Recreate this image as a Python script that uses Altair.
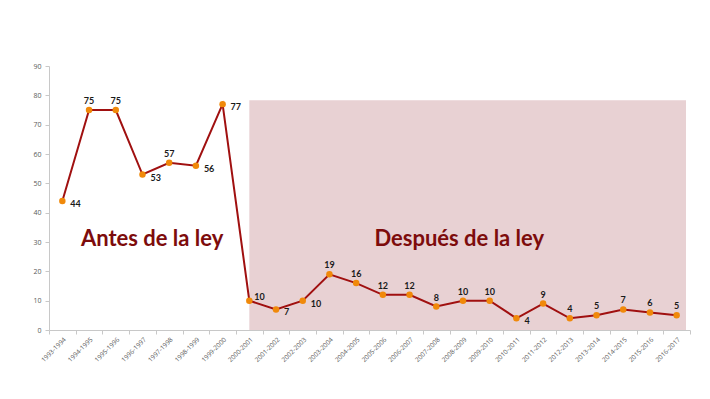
import altair as alt
import pandas as pd

seasons = ["1993-1994", "1994-1995", "1995-1996", "1996-1997", "1997-1998", "1998-1999",
           "1999-2000", "2000-2001", "2001-2002", "2002-2003", "2003-2004", "2004-2005",
           "2005-2006", "2006-2007", "2007-2008", "2008-2009", "2009-2010", "2010-2011",
           "2011-2012", "2012-2013", "2013-2014", "2014-2015", "2015-2016", "2016-2017"]
values = [44, 75, 75, 53, 57, 56, 77, 10, 7, 10, 19, 16, 12, 12, 8, 10, 10, 4, 9, 4, 5, 7, 6, 5]
# label side: "r" = right of point, "tr" = right and a bit above, "t" = above point
label_side = ["r", "t", "t", "r", "t", "r", "r", "tr", "r", "r", "t", "t",
              "t", "t", "t", "t", "t", "r", "t", "t", "t", "t", "t", "t"]
shade_start = "2000-2001"
shade_end = "2016-2017"
shade_top = 78.3
annotations = ["Antes de la ley", "Después de la ley"]

df = pd.DataFrame({"season": seasons, "value": values, "side": label_side})

xscale = alt.Scale(type="band", domain=seasons, paddingInner=0, paddingOuter=0)
yscale = alt.Scale(domain=[0, 90], nice=False)

xaxis = alt.Axis(title=None, labelAngle=-45, labelFontSize=6.5, labelColor="#595959",
                 labelFont="Open Sans", tickBand="extent", domainColor="#c8c8c8",
                 tickColor="#c8c8c8", tickSize=4, labelPadding=2)
yaxis = alt.Axis(title=None, values=list(range(0, 91, 10)), grid=False, labelFontSize=7,
                 labelColor="#595959", labelFont="Open Sans", domainColor="#c8c8c8",
                 tickColor="#c8c8c8", tickSize=4, labelPadding=4)

shade_df = pd.DataFrame({"s0": [shade_start], "s1": [shade_end], "y0": [0], "y1": [shade_top]})
shade = alt.Chart(shade_df).mark_rect(color="#e8d1d3").encode(
    x=alt.X("s0:N", scale=xscale, axis=xaxis, bandPosition=0.5),
    x2=alt.X2("s1:N", bandPosition=0.85),
    y=alt.Y("y0:Q", scale=yscale, axis=yaxis),
    y2="y1:Q",
)

base = alt.Chart(df).encode(
    x=alt.X("season:N", scale=xscale, axis=xaxis, sort=seasons),
    y=alt.Y("value:Q", scale=yscale, axis=yaxis),
)

line = base.mark_line(color="#a01010", strokeWidth=2)
pts = base.mark_circle(color="#f0890a", size=42, opacity=1)

txt = dict(fontSize=9, fontWeight="bold", font="Lato", color="#1a1a1a")
lab_top = base.transform_filter(alt.datum.side == "t").mark_text(
    dy=-9, **txt).encode(text="value:Q")
lab_right = base.transform_filter(alt.datum.side == "r").mark_text(
    dx=8, dy=3, align="left", **txt).encode(text="value:Q")
lab_tr = base.transform_filter(alt.datum.side == "tr").mark_text(
    dx=5, dy=-4, align="left", **txt).encode(text="value:Q")

ann_df = pd.DataFrame({"text": annotations, "season": ["1996-1997", "2008-2009"],
                       "y": [31, 31]})
ann_style = dict(fontSize=22, fontWeight="bold", font="Lato", color="#7d0c0c")
ann1 = alt.Chart(ann_df.iloc[[0]]).mark_text(**ann_style).encode(
    x=alt.X("season:N", scale=xscale, axis=xaxis, bandPosition=0.86),
    y=alt.Y("y:Q", scale=yscale, axis=yaxis), text="text:N")
ann2 = alt.Chart(ann_df.iloc[[1]]).mark_text(**ann_style).encode(
    x=alt.X("season:N", scale=xscale, axis=xaxis, bandPosition=0.36),
    y=alt.Y("y:Q", scale=yscale, axis=yaxis), text="text:N")

chart = alt.layer(shade, line, pts, lab_top, lab_right, lab_tr, ann1, ann2).properties(
    width=641, height=264,
    padding={"left": 41, "top": 58, "right": 10, "bottom": 60},
    autosize=alt.AutoSizeParams(type="none"),
).configure_view(stroke=None)

chart.save("out.html", embed_options={"renderer": "svg", "actions": False})
